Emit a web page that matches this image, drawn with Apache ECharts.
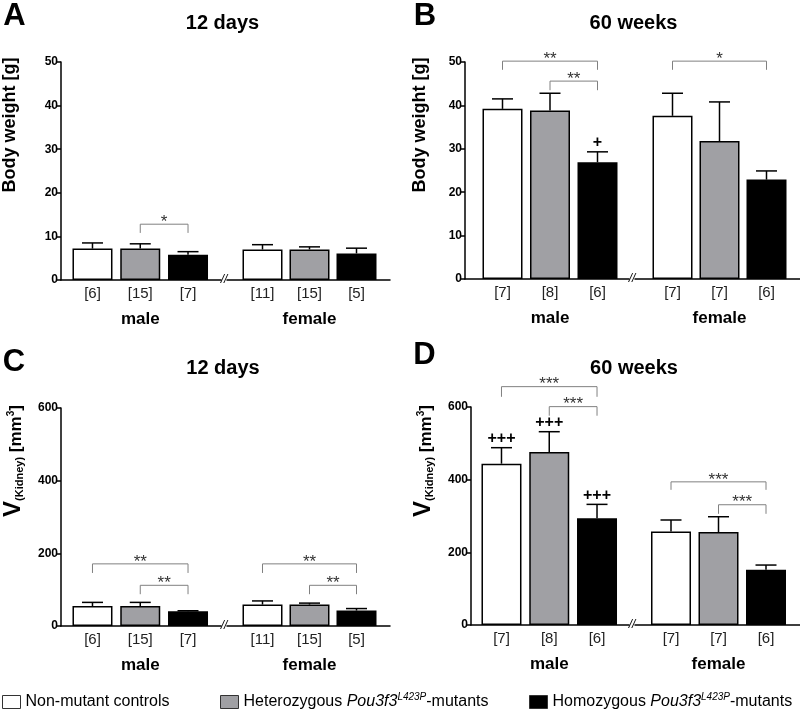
<!DOCTYPE html>
<html><head><meta charset="utf-8">
<script src="https://cdn.jsdelivr.net/npm/echarts@6/dist/echarts.min.js"></script>
<style>html,body{margin:0;padding:0;background:#fff}#c{width:800px;height:713px}</style>
</head><body><div id="c"></div>
<script>
// ---------- data ----------
const groupNames = ['male', 'female'];
const genotypes = ['Non-mutant controls', 'Heterozygous Pou3f3L423P-mutants', 'Homozygous Pou3f3L423P-mutants'];
const genotypeColors = ['#ffffff', '#a0a0a4', '#000000'];

// Panel A: body weight, 12 days
const A_title = '12 days';
const A_yTicks = [0, 10, 20, 30, 40, 50];
const A_nMale = ['[6]', '[15]', '[7]'];
const A_nFemale = ['[11]', '[15]', '[5]'];
const A_meanMale = [7.2, 7.2, 5.8];
const A_semMale = [1.3, 1.1, 0.7];
const A_meanFemale = [7.0, 7.0, 6.1];
const A_semFemale = [1.1, 0.6, 1.2];
const A_plusMale = ['', '', ''];
const A_plusFemale = ['', '', ''];
const A_sigMale = [{ from: 1, to: 2, top: 12.8, leg: 10.8, text: '*' }];
const A_sigFemale = [];

// Panel B: body weight, 60 weeks
const B_title = '60 weeks';
const B_yTicks = [0, 10, 20, 30, 40, 50];
const B_nMale = ['[7]', '[8]', '[6]'];
const B_nFemale = ['[7]', '[7]', '[6]'];
const B_meanMale = [39.2, 38.8, 26.9];
const B_semMale = [2.3, 4.0, 2.4];
const B_meanFemale = [37.6, 31.8, 22.9];
const B_semFemale = [5.2, 9.0, 2.0];
const B_plusMale = ['', '', '+'];
const B_plusFemale = ['', '', ''];
const B_sigMale = [{ from: 0, to: 2, top: 50.2, leg: 48.2, text: '**' }, { from: 1, to: 2, top: 45.6, leg: 43.5, text: '**' }];
const B_sigFemale = [{ from: 0, to: 2, top: 50.2, leg: 48.2, text: '*' }];

// Panel C: kidney volume, 12 days
const C_title = '12 days';
const C_yTicks = [0, 200, 400, 600];
const C_nMale = ['[6]', '[15]', '[7]'];
const C_nFemale = ['[11]', '[15]', '[5]'];
const C_meanMale = [55, 55, 40.5];
const C_semMale = [10, 10, 1.5];
const C_meanFemale = [59, 59, 42.5];
const C_semFemale = [10, 4, 5.5];
const C_plusMale = ['', '', ''];
const C_plusFemale = ['', '', ''];
const C_sigMale = [{ from: 0, to: 2, top: 171, leg: 146, text: '**' }, { from: 1, to: 2, top: 112, leg: 87.5, text: '**' }];
const C_sigFemale = [{ from: 0, to: 2, top: 171, leg: 146, text: '**' }, { from: 1, to: 2, top: 112, leg: 87.5, text: '**' }];

// Panel D: kidney volume, 60 weeks
const D_title = '60 weeks';
const D_yTicks = [0, 200, 400, 600];
const D_nMale = ['[7]', '[8]', '[6]'];
const D_nFemale = ['[7]', '[7]', '[6]'];
const D_meanMale = [444, 476, 294];
const D_semMale = [44, 56, 38];
const D_meanFemale = [257, 256, 152];
const D_semFemale = [32, 42, 13];
const D_plusMale = ['+++', '+++', '+++'];
const D_plusFemale = ['', '', ''];
const D_sigMale = [{ from: 0, to: 2, top: 656, leg: 628, text: '***' }, { from: 1, to: 2, top: 601, leg: 576, text: '***' }];
const D_sigFemale = [{ from: 0, to: 2, top: 394, leg: 372, text: '***' }, { from: 1, to: 2, top: 331, leg: 306, text: '***' }];

// ---------- layout (pixels) ----------
const FONT = '"Liberation Sans", Arial, Helvetica, sans-serif';
const layout = {
  A: { axisX: 61, top: 62, bottom: 280, male: [68.6, 143.3], female: [239, 141], lineM: [61, 221], lineF: [227, 390], brk: 224,
       title: [222.5, 23.5], letter: ['A', 14.5, 16], yname: [10, 125] },
  B: { axisX: 465, top: 62, bottom: 279, male: [478.75, 142.5], female: [649, 141], lineM: [465, 629], lineF: [635, 800], brk: 632,
       title: [633.5, 23], letter: ['B', 425, 16], yname: [420, 125] },
  C: { axisX: 61, top: 408, bottom: 626, male: [68.6, 143.3], female: [239, 141], lineM: [61, 221], lineF: [227, 390], brk: 224,
       title: [223, 368.5], letter: ['C', 14, 362.5], yname: [11, 461] },
  D: { axisX: 471, top: 407, bottom: 625, male: [477.6, 143.3], female: [647.25, 142.5], lineM: [471, 629], lineF: [635, 800], brk: 632,
       title: [634, 368.5], letter: ['D', 424.5, 355.5], yname: [421, 461] }
};

const panels = {
  A: { title: A_title, ticks: A_yTicks, name: 'weight',
       groups: [[A_nMale, A_meanMale, A_semMale, A_plusMale, A_sigMale], [A_nFemale, A_meanFemale, A_semFemale, A_plusFemale, A_sigFemale]] },
  B: { title: B_title, ticks: B_yTicks, name: 'weight',
       groups: [[B_nMale, B_meanMale, B_semMale, B_plusMale, B_sigMale], [B_nFemale, B_meanFemale, B_semFemale, B_plusFemale, B_sigFemale]] },
  C: { title: C_title, ticks: C_yTicks, name: 'kidney',
       groups: [[C_nMale, C_meanMale, C_semMale, C_plusMale, C_sigMale], [C_nFemale, C_meanFemale, C_semFemale, C_plusFemale, C_sigFemale]] },
  D: { title: D_title, ticks: D_yTicks, name: 'kidney',
       groups: [[D_nMale, D_meanMale, D_semMale, D_plusMale, D_sigMale], [D_nFemale, D_meanFemale, D_semFemale, D_plusFemale, D_sigFemale]] }
};

const grid = [], xAxis = [], yAxis = [], series = [], graphic = [];

function addPanel(key) {
  const L = layout[key], P = panels[key];
  const tmin = P.ticks[0], tmax = P.ticks[P.ticks.length - 1], tint = P.ticks[1] - P.ticks[0];
  const h = L.bottom - L.top;
  // axis line frames (broken x axis)
  [L.lineM, L.lineF].forEach(line => {
    const gi = grid.length;
    grid.push({ left: line[0], top: L.top, width: line[1] - line[0], height: h });
    xAxis.push({ type: 'value', gridIndex: gi, min: 0, max: 1, axisLine: { show: true, onZero: false, lineStyle: { color: '#000', width: 1.5 } },
      axisTick: { show: false }, axisLabel: { show: false }, splitLine: { show: false } });
    yAxis.push({ type: 'value', gridIndex: gi, min: 0, max: 1, show: false });
  });
  // bar grids
  P.groups.forEach((g, gIdx) => {
    const [labels, means, sems, plus, sig] = g;
    const box = gIdx === 0 ? L.male : L.female;
    const gi = grid.length;
    grid.push({ left: box[0], top: L.top, width: box[1], height: h });
    xAxis.push({ type: 'category', gridIndex: gi, data: labels,
      axisLine: { show: false }, axisTick: { show: false },
      axisLabel: { fontSize: 15, color: '#222', margin: 6, fontFamily: FONT },
      name: groupNames[gIdx], nameLocation: 'middle', nameGap: 31,
      nameTextStyle: { fontSize: 17, fontWeight: 'bold', color: '#000', fontFamily: FONT } });
    yAxis.push({ type: 'value', gridIndex: gi, min: tmin, max: tmax, interval: tint,
      show: gIdx === 0, offset: box[0] - L.axisX,
      axisLine: { show: true, lineStyle: { color: '#000', width: 1.5 } },
      axisTick: { show: true, length: 5, lineStyle: { color: '#000', width: 1.5 } },
      axisLabel: { fontSize: 12, fontWeight: 'bold', color: '#000', margin: 3, fontFamily: FONT },
      splitLine: { show: false } });
    genotypes.forEach((name, k) => {
      series.push({ type: 'bar', name, xAxisIndex: gi, yAxisIndex: gi, stack: 's' + gi, barWidth: 40,
        data: means.map((v, i) => i === k ? v : '-'),
        itemStyle: { color: genotypeColors[k], borderColor: '#000', borderWidth: 1.5 },
        emphasis: { disabled: true }, silent: true });
    });
    // error bars (+ markers)
    series.push({ type: 'custom', xAxisIndex: gi, yAxisIndex: gi, clip: false, silent: true, z: 5,
      data: means.map((v, i) => [i, v, v + sems[i]]),
      renderItem: (params, api) => {
        const x = api.value(0);
        const p0 = api.coord([x, api.value(1)]);
        const p1 = api.coord([x, api.value(2)]);
        const st = { stroke: '#000', lineWidth: 1.5 };
        const ch = [
          { type: 'line', shape: { x1: p0[0], y1: p0[1], x2: p1[0], y2: p1[1] }, style: st },
          { type: 'line', shape: { x1: p1[0] - 10.5, y1: p1[1], x2: p1[0] + 10.5, y2: p1[1] }, style: st }
        ];
        const t = plus[params.dataIndex];
        if (t) ch.push({ type: 'text', x: p1[0], y: p1[1] - 9,
          style: { text: t, fill: '#000', font: 'bold 16px ' + FONT, align: 'center', verticalAlign: 'middle' } });
        return { type: 'group', children: ch };
      } });
    // significance brackets
    if (sig.length) series.push({ type: 'custom', xAxisIndex: gi, yAxisIndex: gi, clip: false, silent: true, z: 6,
      data: sig.map(s => [s.from, s.to, s.top, s.leg]),
      renderItem: (params, api) => {
        const a = api.value(0), b = api.value(1);
        const pa = api.coord([a, api.value(2)]), pb = api.coord([b, api.value(2)]);
        const la = api.coord([a, api.value(3)]), lb = api.coord([b, api.value(3)]);
        return { type: 'group', children: [
          { type: 'polyline', shape: { points: [la, pa, pb, lb] }, style: { stroke: '#808080', lineWidth: 1, fill: null } },
          { type: 'text', x: (pa[0] + pb[0]) / 2, y: pa[1] - 2,
            style: { text: sig[params.dataIndex].text, fill: '#333', font: '17px ' + FONT, align: 'center', verticalAlign: 'middle' } }
        ] };
      } });
  });
  // titles, letters, axis names, break marks
  graphic.push({ type: 'text', x: L.title[0], y: L.title[1], style: { text: P.title, font: 'bold 20px ' + FONT, fill: '#000', align: 'center', verticalAlign: 'middle' } });
  graphic.push({ type: 'text', x: L.letter[1], y: L.letter[2], style: { text: L.letter[0], font: 'bold 31px ' + FONT, fill: '#000', align: 'center', verticalAlign: 'middle' } });
  graphic.push({ type: 'text', x: L.brk, y: L.bottom, style: { text: '//', font: 'italic 12px ' + FONT, fill: '#000', align: 'center', verticalAlign: 'middle' } });
  if (P.name === 'weight') {
    graphic.push({ type: 'text', x: L.yname[0], y: L.yname[1], rotation: Math.PI / 2,
      style: { text: 'Body weight [g]', font: 'bold 18px ' + FONT, fill: '#000', align: 'center', verticalAlign: 'middle' } });
  } else {
    graphic.push({ type: 'text', x: L.yname[0], y: L.yname[1], rotation: Math.PI / 2,
      style: { text: '{v|V}{s|(Kidney)}{m| [mm}{p|3}{m|]}', fill: '#000', align: 'center', verticalAlign: 'middle',
        font: 'bold 17px ' + FONT,
        rich: {
          v: { fontSize: 24, fontWeight: 'bold', lineHeight: 28, verticalAlign: 'bottom', fontFamily: FONT },
          s: { fontSize: 11, fontWeight: 'bold', lineHeight: 11, verticalAlign: 'bottom', fontFamily: FONT },
          m: { fontSize: 17, fontWeight: 'bold', lineHeight: 24, verticalAlign: 'bottom', fontFamily: FONT },
          p: { fontSize: 10, fontWeight: 'bold', lineHeight: 28, verticalAlign: 'middle', fontFamily: FONT }
        } } });
  }
}
['A', 'B', 'C', 'D'].forEach(addPanel);

const legendLeft = [2, 220, 529];
const legend = genotypes.map((name, k) => ({
  data: [name], left: legendLeft[k], top: 692, padding: 0, itemWidth: 18, itemHeight: 13, icon: 'rect',
  selectedMode: false, itemStyle: { borderColor: '#333', borderWidth: 1 },
  formatter: n => n.replace('Pou3f3L423P', '{i|Pou3f3}{sup|L423P}'),
  textStyle: { fontSize: 16, color: '#000', fontFamily: FONT, lineHeight: 20,
    rich: { i: { fontSize: 16, fontStyle: 'italic', lineHeight: 20, fontFamily: FONT },
            sup: { fontSize: 10, fontStyle: 'italic', lineHeight: 16, verticalAlign: 'top', fontFamily: FONT } } }
}));

const chart = echarts.init(document.getElementById('c'), null, { renderer: 'canvas' });
chart.setOption({ animation: false, backgroundColor: '#fff', textStyle: { fontFamily: FONT },
  grid, xAxis, yAxis, series, graphic, legend });
</script></body></html>
